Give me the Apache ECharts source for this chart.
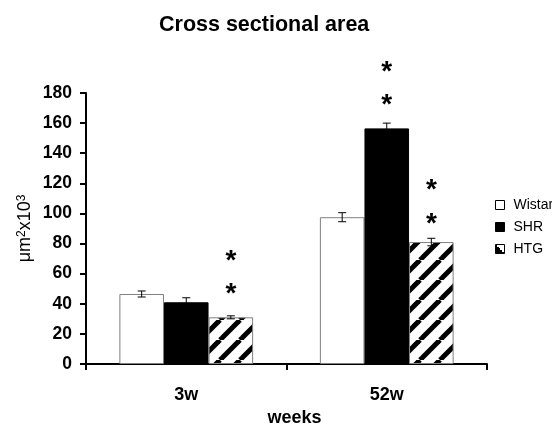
<!DOCTYPE html>
<html><head><meta charset="utf-8">
<script src="https://cdn.jsdelivr.net/npm/echarts@6/dist/echarts.min.js"></script>
<style>html,body{margin:0;padding:0;background:#fff}#c{width:552px;height:430px}</style>
</head><body><div id="c"></div>
<script>
var categories = ['3w', '52w'];
var seriesNames = ['Wistar', 'SHR', 'HTG'];
var wistar = [46.5, 97.5];
var shr = [41, 156.5];
var htg = [31, 81];
var wistarErr = [2, 3];
var shrErr = [3, 3.5];
var htgErr = [1, 2.5];
var yTicks = [0, 20, 40, 60, 80, 100, 120, 140, 160, 180];
// asterisk marks: [categoryIndex, seriesIndex, value position]
var asterisks = [[0, 2, 48], [0, 2, 70], [1, 1, 174], [1, 1, 196], [1, 2, 95], [1, 2, 117.5]];

var FONT = 'Arial, "Liberation Sans", sans-serif';

function makePattern() {
  var c = document.createElement('canvas');
  var s = 20;
  c.width = s; c.height = s;
  var g = c.getContext('2d');
  g.fillStyle = '#fff'; g.fillRect(0, 0, s, s);
  g.strokeStyle = '#000'; g.lineWidth = 5;
  for (var k = -1; k <= 1; k++) {
    g.beginPath();
    g.moveTo(k * s, s); g.lineTo(k * s + s, 0);
    g.stroke();
  }
  return c;
}
var pattern = {image: makePattern(), repeat: 'repeat'};

var values = [wistar, shr, htg];
var errs = [wistarErr, shrErr, htgErr];
var gapFrac = 0.333;

function barOffset(api, si) {
  var band = api.size([1, 0])[0];
  var bw = band * (1 - gapFrac) / 3;
  return {bw: bw, off: (si - 1) * bw};
}

var errData = [];
for (var s = 0; s < 3; s++) for (var i = 0; i < categories.length; i++)
  errData.push([i, values[s][i], errs[s][i], s]);

var htgIcon = {
  type: 'linear', x: 0, y: 1, x2: 1, y2: 0,
  colorStops: [{offset: 0, color: '#000'}, {offset: 0.5, color: '#000'}, {offset: 0.5, color: '#fff'}, {offset: 1, color: '#fff'}]
};

var chart = echarts.init(document.getElementById('c'));
chart.setOption({
  animation: false,
  title: {
    text: 'Cross sectional area', left: 154, top: 9,
    textStyle: {fontFamily: FONT, fontWeight: 'bold', fontSize: 21.5, color: '#000'}
  },
  legend: {
    orient: 'vertical', left: 490, top: 193, itemWidth: 9, itemHeight: 9, itemGap: 8,
    icon: 'rect',
    data: [
      {name: 'Wistar', itemStyle: {color: '#fff', borderColor: '#000', borderWidth: 1}},
      {name: 'SHR', itemStyle: {color: '#000', borderColor: '#000', borderWidth: 1}},
      {name: 'HTG', itemStyle: {color: htgIcon, borderColor: '#000', borderWidth: 1}}
    ],
    textStyle: {fontFamily: FONT, fontSize: 14, color: '#000', padding: [0, 0, 0, 4]}
  },
  grid: {left: 86, right: 65, top: 93, bottom: 66, containLabel: false, outerBoundsMode: 'none'},
  xAxis: {
    type: 'category', data: categories,
    name: 'weeks', nameLocation: 'middle', nameGap: 45,
    nameTextStyle: {fontFamily: FONT, fontWeight: 'bold', fontSize: 18, color: '#000', padding: [0, 0, 0, 16]},
    axisLine: {lineStyle: {color: '#000', width: 2}},
    axisTick: {show: true, length: 6, lineStyle: {color: '#000', width: 2}},
    axisLabel: {fontFamily: FONT, fontWeight: 'bold', fontSize: 18, color: '#000', margin: 22}
  },
  yAxis: {
    type: 'value', min: 0, max: 180, interval: 20,
    name: '{a|μm}{s|2}{a|x10}{s|3}', nameLocation: 'middle', nameRotate: 90, nameGap: 52,
    nameMoveOverlap: false,
    nameTextStyle: {
      rich: {
        a: {fontFamily: FONT, fontSize: 18, color: '#000'},
        s: {fontFamily: FONT, fontSize: 12, color: '#000', verticalAlign: 'top'}
      }
    },
    axisLine: {show: true, lineStyle: {color: '#000', width: 2}},
    axisTick: {show: true, length: 6, lineStyle: {color: '#000', width: 2}},
    splitLine: {show: false},
    axisLabel: {
      fontFamily: FONT, fontWeight: 'bold', fontSize: 17.5, color: '#000', margin: 14,
      formatter: function (v) { return yTicks.indexOf(v) >= 0 ? String(v) : ''; }
    }
  },
  series: [
    {name: 'Wistar', type: 'bar', data: wistar, barGap: '0%', barCategoryGap: '33.3%',
      itemStyle: {color: '#fff', borderColor: '#808080', borderWidth: 1}},
    {name: 'SHR', type: 'bar', data: shr, barGap: '0%', barCategoryGap: '33.3%',
      itemStyle: {color: '#000', borderColor: '#000', borderWidth: 1}},
    {name: 'HTG', type: 'bar', data: htg, barGap: '0%', barCategoryGap: '33.3%',
      itemStyle: {color: pattern, borderColor: '#808080', borderWidth: 1}},
    {
      type: 'custom', silent: true, z: 5, data: errData,
      renderItem: function (params, api) {
        var ci = api.value(0), v = api.value(1), e = api.value(2), si = api.value(3);
        var o = barOffset(api, si);
        var top = api.coord([ci, v + e]);
        var bot = api.coord([ci, v - e]);
        var x = top[0] + o.off;
        var cw = 4;
        var st = {stroke: '#000', lineWidth: 1};
        return {type: 'group', children: [
          {type: 'line', shape: {x1: x, y1: top[1], x2: x, y2: bot[1]}, style: st},
          {type: 'line', shape: {x1: x - cw, y1: top[1], x2: x + cw, y2: top[1]}, style: st},
          {type: 'line', shape: {x1: x - cw, y1: bot[1], x2: x + cw, y2: bot[1]}, style: st}
        ]};
      }
    },
    {
      type: 'custom', silent: true, z: 6, clip: false, data: asterisks,
      renderItem: function (params, api) {
        var ci = api.value(0), si = api.value(1), v = api.value(2);
        var o = barOffset(api, si);
        var p = api.coord([ci, v]);
        return {type: 'text', x: p[0] + o.off, y: p[1] - 11,
          style: {text: '*', fill: '#000', font: 'bold 28px ' + FONT, textAlign: 'center', textVerticalAlign: 'top'}};
      }
    }
  ]
});
</script></body></html>
